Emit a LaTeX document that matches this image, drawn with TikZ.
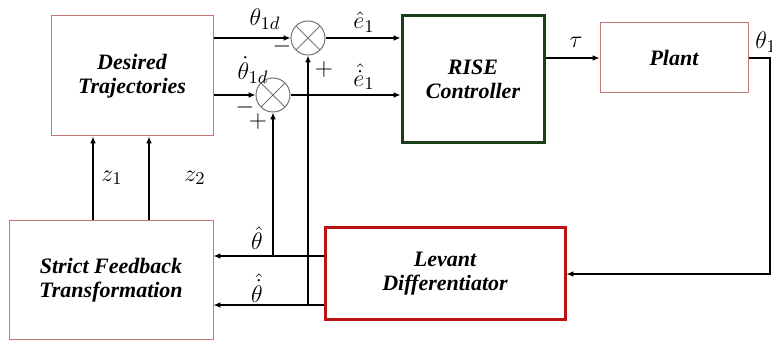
\documentclass[tikz,border=0pt]{standalone}
\usepackage{amsmath}
\usepackage{fontspec}
\setmainfont{Liberation Serif}
\usetikzlibrary{arrows.meta}
\definecolor{boxred}{RGB}{190,120,120}
\definecolor{risegreen}{RGB}{25,62,25}
\definecolor{levred}{RGB}{185,20,20}
\definecolor{sumgray}{RGB}{115,115,115}
\tikzset{
  flowarrow/.style={-{Latex[length=3.4pt,width=2.8pt]}, line width=0.55pt},
  plainbox/.style={draw=boxred, line width=0.5pt, fill=white, align=center, font=\fontsize{11}{12}\selectfont\bfseries\itshape},
  risebox/.style={plainbox, draw=risegreen, line width=1.5pt},
  levbox/.style={plainbox, draw=levred, line width=1.5pt},
  sumnode/.style={draw=sumgray, circle, minimum size=17pt, inner sep=0pt, line width=0.5pt,
    path picture={\draw[sumgray, line width=0.4pt] (path picture bounding box.north west) -- (path picture bounding box.south east)
      (path picture bounding box.north east) -- (path picture bounding box.south west);}},
  siglabel/.style={font=\fontsize{13}{13}\selectfont, inner sep=1pt},
  signlabel/.style={font=\fontsize{13}{13}\selectfont, inner sep=0pt}
}

\begin{document}
\begin{tikzpicture}[x=0.5pt, y=-0.5pt]
  \useasboundingbox (0,0) rectangle (772,346);
  % blocks
  \node[plainbox, minimum width=81pt, minimum height=60pt] (dt) at (132,76) {Desired\\Trajectories};
  \node[plainbox, minimum width=102pt, minimum height=59.5pt] (sft) at (111,280.5) {Strict Feedback\\Transformation};
  \node[risebox, minimum width=71pt, minimum height=63.5pt] (rise) at (473,79.5) {RISE\\Controller};
  \node[plainbox, minimum width=74pt, minimum height=35pt] (plant) at (674,58) {Plant};
  \node[levbox, minimum width=120pt, minimum height=46pt] (lev) at (445,274) {Levant\\Differentiator};
  % summing junctions
  \node[sumnode] (sum1) at (308,38) {};
  \node[sumnode] (sum2) at (273,95) {};
  \node[signlabel] (m1) at (282,47) {$-$};
  \node[signlabel] (p1) at (324,70) {$+$};
  \node[signlabel] (m2) at (245,108) {$-$};
  \node[signlabel] (p2) at (258,122) {$+$};
  % branch points
  \coordinate (thetahat) at (273,256);
  \coordinate (thetadhat) at (308,305);
  \coordinate (tap) at (770,58);
  \coordinate (z1x) at (93,180);
  \coordinate (z2x) at (149,180);
  % connectors
  \draw[flowarrow] (dt.east |- sum1) -- (sum1.west);
  \draw[flowarrow] (dt.east |- sum2) -- (sum2.west);
  \draw[flowarrow] (sum1.east) -- (sum1 -| rise.west);
  \draw[flowarrow] (sum2.east) -- (sum2 -| rise.west);
  \draw[flowarrow] (rise.east |- plant) -- (plant.west);
  \draw[flowarrow] (plant.east) -- (tap) |- (lev.east);
  \draw[flowarrow] (lev.west |- thetahat) -- (sft.east |- thetahat);
  \draw[flowarrow] (lev.west |- thetadhat) -- (sft.east |- thetadhat);
  \draw[flowarrow] (thetahat) -- (sum2.south);
  \draw[flowarrow] (thetadhat) -- (sum1.south);
  \draw[flowarrow] (sft.north -| z1x) -- (dt.south -| z1x);
  \draw[flowarrow] (sft.north -| z2x) -- (dt.south -| z2x);
  % signal labels
  \node[siglabel] (th1d) at (265,19) {$\theta_{1d}$};
  \node[siglabel] (dth1d) at (253,70) {$\dot{\theta}_{1d}$};
  \node[siglabel] (e1) at (364,22) {$\hat{e}_1$};
  \node[siglabel] (de1) at (364,77) {$\hat{\dot{e}}_1$};
  \node[siglabel] (tau) at (576,42) {$\tau$};
  \node[siglabel, anchor=west] (th1) at (753,42) {$\theta_1$};
  \node[siglabel] (z1) at (112,178) {$z_1$};
  \node[siglabel] (z2) at (195,178) {$z_2$};
  \node[siglabel] (thh) at (257,238) {$\hat{\theta}$};
  \node[siglabel] (dthh) at (257,288) {$\hat{\dot{\theta}}$};
\end{tikzpicture}
\end{document}
